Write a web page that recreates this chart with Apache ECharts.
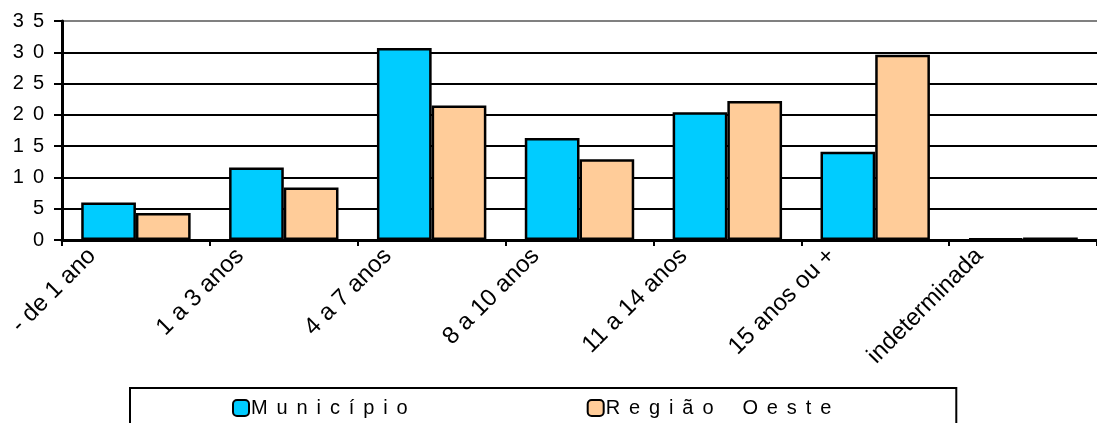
<!DOCTYPE html>
<html>
<head>
<meta charset="utf-8">
<script src="https://cdn.jsdelivr.net/npm/echarts@6/dist/echarts.min.js"></script>
<style>
  html, body { margin: 0; padding: 0; background: #fff; }
  #chart { width: 1097px; height: 423px; }
</style>
</head>
<body>
<div id="chart"></div>
<script>
// Schooling duration categories (x axis)
const categories = ['- de 1 ano', '1 a 3 anos', '4 a 7 anos', '8 a 10 anos', '11 a 14 anos', '15 anos ou +', 'indeterminada'];
// Percentage of population per category
const municipio = [6.0, 11.6, 30.7, 16.3, 20.4, 14.1, 0.2];
const regiaoOeste = [4.3, 8.4, 21.5, 12.9, 22.2, 29.6, 0.4];
// Series names shown in the legend
const seriesNames = ['Município', 'Região Oeste'];
// Value axis range
const yMin = 0, yMax = 35, yStep = 5;

const FONT = 'Liberation Sans, Arial, sans-serif';
// letter-spaced text: glyphs separated by a space plus a six-per-em space
const SEP = ' \u2006';
const spaced = s => s.split(' ').map(w => w.split('').join(SEP)).join(SEP + ' ' + SEP + ' ');

const chart = echarts.init(document.getElementById('chart'), null, { renderer: 'canvas' });

chart.setOption({
  animation: false,
  backgroundColor: '#ffffff',
  grid: { left: 62, right: -11, top: 21, bottom: 183 },
  legend: {
    data: seriesNames,
    left: 130,
    top: 388,
    orient: 'horizontal',
    padding: [10, 125, 40, 102],
    itemGap: 179,
    itemWidth: 16,
    itemHeight: 16,
    borderColor: '#000',
    borderWidth: 2,
    backgroundColor: '#fff',
    textStyle: { fontFamily: FONT, fontSize: 20, color: '#000', padding: [0, 0, 0, -3] },
    formatter: name => spaced(name)
  },
  xAxis: {
    type: 'category',
    data: categories,
    axisLine: { show: true, lineStyle: { color: '#000', width: 3 } },
    axisTick: { show: true, length: 6, lineStyle: { color: '#000', width: 2 } },
    axisLabel: {
      interval: 0,
      rotate: 45,
      margin: 8,
      fontFamily: FONT,
      fontSize: 24,
      color: '#000',
      verticalAlign: 'bottom',
      padding: [0, 34, 16, 0]
    },
    splitLine: { show: false }
  },
  yAxis: {
    type: 'value',
    min: yMin,
    max: yMax,
    interval: yStep,
    axisLine: { show: true, lineStyle: { color: '#000', width: 3 } },
    axisTick: { show: true, length: 8, lineStyle: { color: '#000', width: 2 } },
    axisLabel: {
      margin: 18,
      fontFamily: FONT,
      fontSize: 20,
      color: '#000',
      formatter: v => String(v).split('').join(SEP)
    },
    splitLine: {
      show: true,
      lineStyle: { color: ['#000', '#000', '#000', '#000', '#000', '#000', '#000', '#808080'], width: 2 }
    }
  },
  series: [
    {
      name: seriesNames[0],
      type: 'bar',
      data: municipio,
      barGap: '0%',
      barCategoryGap: '26%',
      itemStyle: { color: '#00CCFF', borderColor: '#000', borderWidth: 2.5 }
    },
    {
      name: seriesNames[1],
      type: 'bar',
      data: regiaoOeste,
      barGap: '0%',
      barCategoryGap: '26%',
      itemStyle: { color: '#FFCC99', borderColor: '#000', borderWidth: 2.5 }
    }
  ]
});
</script>
</body>
</html>
